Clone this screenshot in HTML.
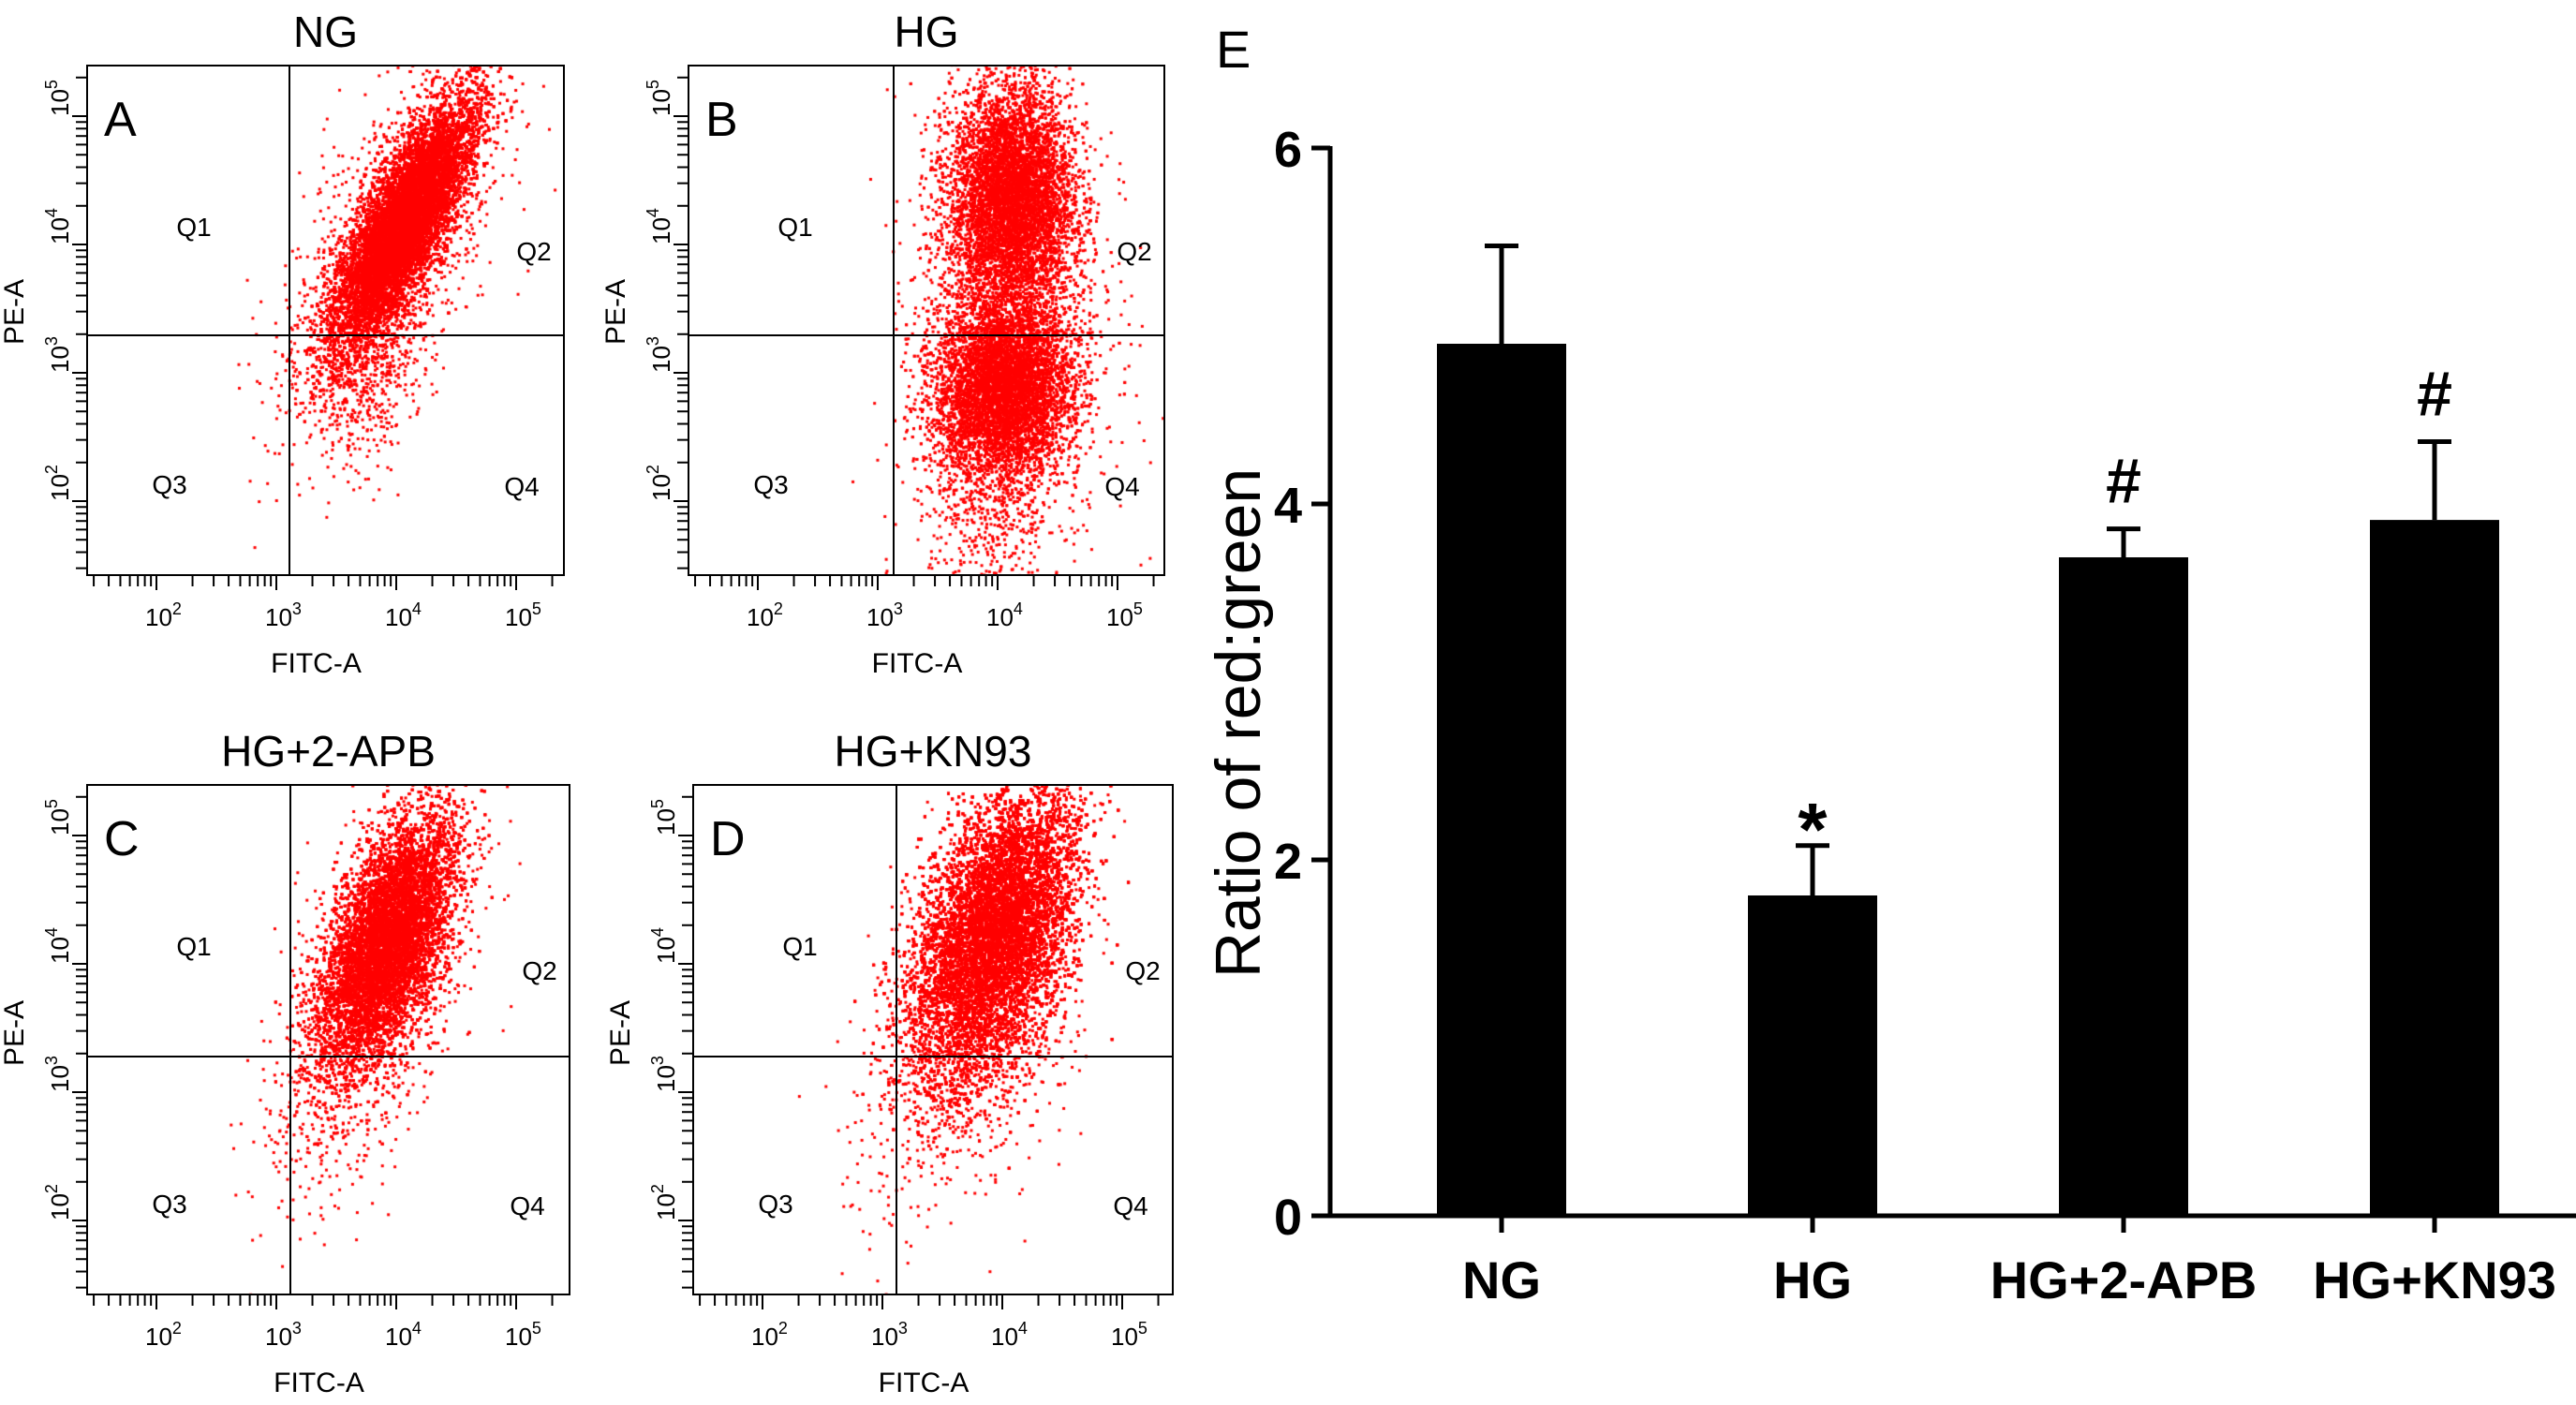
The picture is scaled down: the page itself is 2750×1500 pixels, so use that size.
<!DOCTYPE html>
<html><head><meta charset="utf-8"><style>
html,body{margin:0;padding:0;background:#fff;}
#wrap{position:relative;width:2750px;height:1500px;overflow:hidden;}
canvas,svg{position:absolute;left:0;top:0;}
text{font-family:"Liberation Sans",Arial,sans-serif;}
</style></head><body>
<div id="wrap">
<canvas id="cv" width="2750" height="1500"></canvas>
<svg id="sv" width="2750" height="1500" xmlns="http://www.w3.org/2000/svg"></svg>
</div>
<script>
// ---- Bar chart data (panel E) ----
const categories = ["NG","HG","HG+2-APB","HG+KN93"];
const values = [4.90,1.80,3.70,3.91];
const errors = [0.55,0.28,0.16,0.44];
const marks = ["","*","#","#"];
const yTicks = [0,2,4,6];

// ---- Flow panels (cloud shapes are visual sketches) ----
const panels = [
 {id:"A",title:"NG",x0:93,y0:70,x1:602,y1:614,vx:309,hy:358,
  clouds:[{cx:337,cy:167,a:70,b:20,t:27,n:20000},{cx:325,cy:190,a:105,b:40,t:25,n:1500},{cx:300,cy:320,a:55,b:28,t:15,n:500}]},
 {id:"B",title:"HG",x0:735,y0:70,x1:1243,y1:614,vx:954,hy:358,
  clouds:[{cx:344,cy:140,a:58,b:32,t:0,n:8000},{cx:335,cy:342,a:48,b:36,t:5,n:8000},{cx:340,cy:240,a:135,b:50,t:0,n:1500},{cx:320,cy:470,a:60,b:40,t:0,n:500}]},
 {id:"C",title:"HG+2-APB",x0:93,y0:838,x1:608,y1:1382,vx:310,hy:1128,
  clouds:[{cx:319,cy:165,a:68,b:27,t:20,n:16000},{cx:305,cy:220,a:105,b:40,t:20,n:1500}]},
 {id:"D",title:"HG+KN93",x0:740,y0:838,x1:1252,y1:1382,vx:957,hy:1128,
  clouds:[{cx:321,cy:155,a:78,b:36,t:18,n:22000},{cx:305,cy:220,a:110,b:45,t:18,n:1800}]}
];

const NS="http://www.w3.org/2000/svg";
const sv=document.getElementById('sv');
function el(tag,attrs,parent){const e=document.createElementNS(NS,tag);for(const k in attrs)e.setAttribute(k,attrs[k]);(parent||sv).appendChild(e);return e;}

let seed=12345;
function rnd(){seed=(seed*1103515245+12345)%2147483648;return seed/2147483648;}
function gauss(){let u=rnd()||1e-9,v=rnd();return Math.sqrt(-2*Math.log(u))*Math.cos(2*Math.PI*v);}
const ctx=document.getElementById('cv').getContext('2d');
ctx.fillStyle="#f00";

panels.forEach(p=>{
  const g=el('g',{});
  
  
  ctx.save();ctx.beginPath();ctx.rect(p.x0,p.y0,p.x1-p.x0,p.y1-p.y0);ctx.clip();
  p.clouds.forEach(c=>{
    const th=c.t*Math.PI/180;
    for(let i=0;i<c.n;i++){
      const u=gauss()*c.b, v=gauss()*c.a;
      const x=p.x0+c.cx+u*Math.cos(th)+v*Math.sin(th);
      const y=p.y0+c.cy+u*Math.sin(th)-v*Math.cos(th);
      ctx.fillRect(x,y,3,3);
    }
  });
  ctx.restore();
  const box=el('rect',{x:p.x0,y:p.y0,width:p.x1-p.x0,height:p.y1-p.y0,fill:'none',stroke:'#000','stroke-width':2},g);
  
  el('line',{x1:p.vx,y1:p.y0,x2:p.vx,y2:p.y1,stroke:'#000','stroke-width':2},g);
  el('line',{x1:p.x0,y1:p.hy,x2:p.x1,y2:p.hy,stroke:'#000','stroke-width':2},g);
  const t=el('text',{x:(p.x0+p.x1)/2,y:p.y0-20,'font-size':46,'text-anchor':'middle'},g);t.textContent=p.title;
  
  const L=el('text',{x:p.x0+18,y:p.y0+75,'font-size':52},g);L.textContent=p.id;
  
  const W=p.x1-p.x0;
  [["Q1",114,182],["Q2",W-32,208],["Q3",88,457],["Q4",W-45,459]].forEach(q=>{
    const e=el('text',{x:p.x0+q[1],y:p.y0+q[2],'font-size':28,'text-anchor':'middle'},g);e.textContent=q[0];
    
  });
  const xd=[74,202,330,458]; const dec=128;
  for(let d=-1;d<4;d++){
    for(let k=1;k<10;k++){
      const x=p.x0+xd[0]+(d)*dec+Math.log10(k)*dec;
      if(x<p.x0+5||x>p.x1-2)continue;
      el('line',{x1:x,y1:p.y1,x2:x,y2:p.y1+(k==1?16:12),stroke:'#000','stroke-width':2},g);
    }
  }
  xd.forEach((dx,i)=>{
    const e=el('text',{x:p.x0+dx-12,y:p.y1+54,'font-size':26},g);
    e.innerHTML='10<tspan dy="-12" font-size="18">'+(i+2)+'</tspan>';
    
  });
  const xt=el('text',{x:(p.x0+p.x1)/2-10,y:p.y1+104,'font-size':30,'text-anchor':'middle'},g);xt.textContent='FITC-A';
  
  const yd=[465,328,191,54]; const ydec=137;
  for(let d=-1;d<4;d++){
    for(let k=1;k<10;k++){
      const y=p.y0+yd[0]-d*ydec-Math.log10(k)*ydec;
      if(y<p.y0+3||y>p.y1-5)continue;
      el('line',{x1:p.x0,y1:y,x2:p.x0-(k==1?16:12),y2:y,stroke:'#000','stroke-width':2},g);
    }
  }
  yd.forEach((dy,i)=>{
    const yy=p.y0+dy, xx=p.x0-30;
    const e=el('text',{x:xx,y:yy+10,'font-size':26,transform:`rotate(-90 ${xx} ${yy})`},g);
    e.innerHTML='10<tspan dy="-12" font-size="18">'+(i+2)+'</tspan>';
    
  });
  const yx=p.x0-68, yy=p.hy-25;
  const yt=el('text',{x:yx,y:yy,'font-size':30,'text-anchor':'middle',transform:`rotate(-90 ${yx} ${yy})`},g);yt.textContent='PE-A';
  
});

// ---- Panel E bar chart ----
const AX=1420, Y0=1298, UNIT=190;
function yScale(v){return Y0-v*UNIT;}
const X_FIRST=1603, STEP=332, BW=138;
function xScale(i){return X_FIRST+i*STEP;}
const ge=el('g',{});

const E=el('text',{x:1298,y:72,'font-size':56},ge);E.textContent='E';

const ya=el('line',{x1:AX,y1:yScale(6)-2,x2:AX,y2:Y0+2,stroke:'#000','stroke-width':5},ge);

const xa=el('line',{x1:AX-2,y1:Y0,x2:2750,y2:Y0,stroke:'#000','stroke-width':5},ge);

yTicks.forEach(v=>{
  el('line',{x1:AX-20,y1:yScale(v),x2:AX,y2:yScale(v),stroke:'#000','stroke-width':5},ge);
  const t=el('text',{x:AX-30,y:yScale(v)+20,'font-size':54,'font-weight':'bold','text-anchor':'end'},ge);t.textContent=v;
  
});
const ytl=el('text',{x:1345,y:772,'font-size':68,'text-anchor':'middle',transform:'rotate(-90 1345 772)'},ge);ytl.textContent='Ratio of red:green';

categories.forEach((c,i)=>{
  const cx=xScale(i);
  const top=yScale(values[i]), et=yScale(values[i]+errors[i]);
  const eb=el('line',{x1:cx,y1:et,x2:cx,y2:top,stroke:'#000','stroke-width':5},ge);
  
  const ec=el('line',{x1:cx-18,y1:et,x2:cx+18,y2:et,stroke:'#000','stroke-width':5},ge);
  
  const b=el('rect',{x:cx-BW/2,y:top,width:BW,height:Y0-top,fill:'#000'},ge);
  
  
  el('line',{x1:cx,y1:Y0,x2:cx,y2:Y0+18,stroke:'#000','stroke-width':5},ge);
  const lt=el('text',{x:cx,y:Y0+88,'font-size':56,'font-weight':'bold','text-anchor':'middle'},ge);lt.textContent=c;
  
  if(marks[i]){
    const m=el('text',{x:cx,y:marks[i]=='*'?et+10:et-28,'font-size':marks[i]=='*'?80:68,'font-weight':'bold','text-anchor':'middle'},ge);
    m.textContent=marks[i];
    
  }
});
</script>
</body></html>
